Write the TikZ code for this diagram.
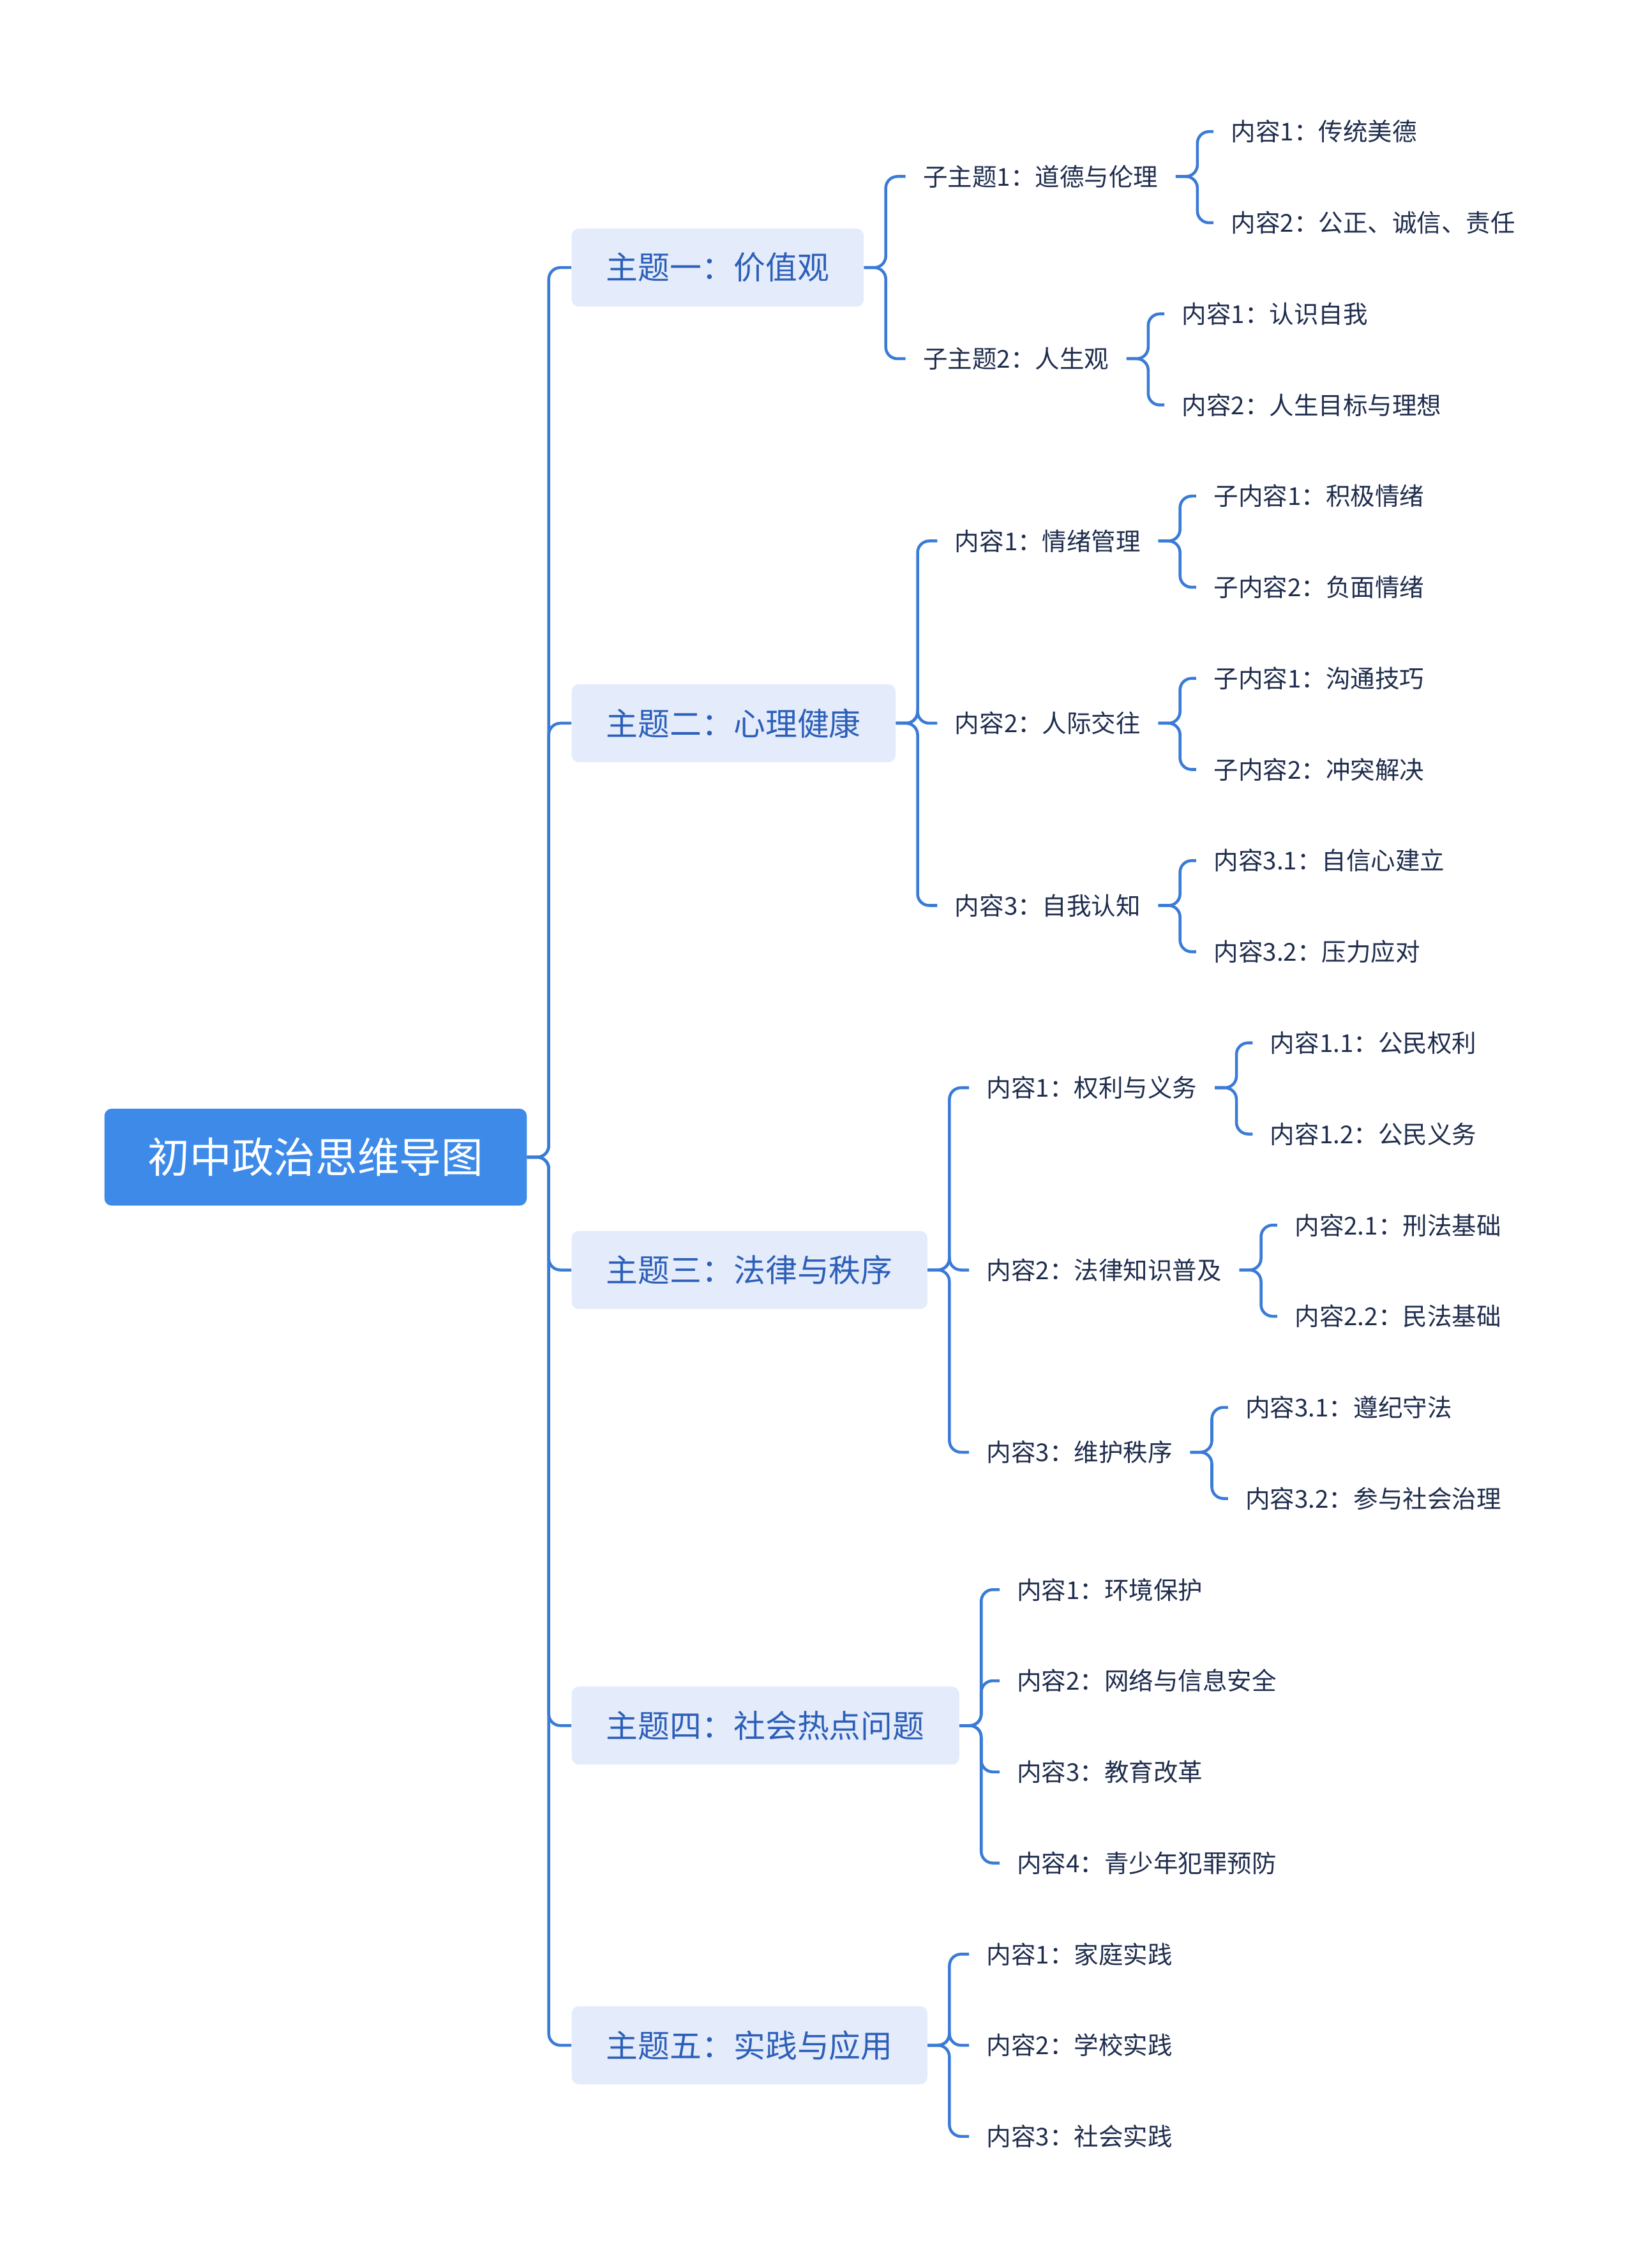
\documentclass[tikz,border=0pt]{standalone}
\usepackage{fontspec}
\setmainfont{Noto Sans CJK SC}
\begin{document}
\begin{tikzpicture}[x=1pt,y=-1pt,
  conn/.style={draw=lc,line width=2pt,rounded corners=8pt},
  rootbox/.style={fill=rootc,rounded corners=5pt,text=white,font=\fontsize{29}{32}\selectfont,minimum height=67pt,inner xsep=30pt,anchor=west},
  topicbox/.style={fill=topc,rounded corners=5pt,text=toptext,font=\fontsize{22}{26}\selectfont,minimum height=54pt,inner xsep=24pt,anchor=west},
  leaf/.style={text=leaftext,font=\fontsize{17}{20}\selectfont,inner xsep=12pt,inner ysep=2pt,anchor=west}]
\definecolor{lc}{HTML}{3A7BD5}
\definecolor{rootc}{HTML}{3D8AE8}
\definecolor{topc}{HTML}{E4ECFC}
\definecolor{toptext}{HTML}{2D5FB8}
\definecolor{leaftext}{HTML}{1F2D4D}
\newcommand\conn[2]{\draw[conn] (#1.east) -- ++(15,0) |- (#2.west);}
\useasboundingbox (0,0) rectangle (1131,1568);
\node[rootbox] (r) at (72,800) {初中政治思维导图};
\node[topicbox] (t1) at (395,185) {主题一：价值观};
\node[topicbox] (t2) at (395,500) {主题二：心理健康};
\node[topicbox] (t3) at (395,878) {主题三：法律与秩序};
\node[topicbox] (t4) at (395,1193) {主题四：社会热点问题};
\node[topicbox] (t5) at (395,1414) {主题五：实践与应用};
\foreach \t in {t1,t2,t3,t4,t5}{\conn{r}{\t}}
% T1
\node[leaf] (a1) at (626,122) {子主题1：道德与伦理};
\node[leaf] (a2) at (626,248) {子主题2：人生观};
\conn{t1}{a1}\conn{t1}{a2}
\node[leaf] (a11) at (839,91) {内容1：传统美德};
\node[leaf] (a12) at (839,154) {内容2：公正、诚信、责任};
\conn{a1}{a11}\conn{a1}{a12}
\node[leaf] (a21) at (805,217) {内容1：认识自我};
\node[leaf] (a22) at (805,280) {内容2：人生目标与理想};
\conn{a2}{a21}\conn{a2}{a22}
% T2
\node[leaf] (b1) at (648,374) {内容1：情绪管理};
\node[leaf] (b2) at (648,500) {内容2：人际交往};
\node[leaf] (b3) at (648,626) {内容3：自我认知};
\conn{t2}{b1}\conn{t2}{b2}\conn{t2}{b3}
\node[leaf] (b11) at (827,343) {子内容1：积极情绪};
\node[leaf] (b12) at (827,406) {子内容2：负面情绪};
\conn{b1}{b11}\conn{b1}{b12}
\node[leaf] (b21) at (827,469) {子内容1：沟通技巧};
\node[leaf] (b22) at (827,532) {子内容2：冲突解决};
\conn{b2}{b21}\conn{b2}{b22}
\node[leaf] (b31) at (827,595) {内容3.1：自信心建立};
\node[leaf] (b32) at (827,658) {内容3.2：压力应对};
\conn{b3}{b31}\conn{b3}{b32}
% T3
\node[leaf] (c1) at (670,752) {内容1：权利与义务};
\node[leaf] (c2) at (670,878) {内容2：法律知识普及};
\node[leaf] (c3) at (670,1004) {内容3：维护秩序};
\conn{t3}{c1}\conn{t3}{c2}\conn{t3}{c3}
\node[leaf] (c11) at (866,721) {内容1.1：公民权利};
\node[leaf] (c12) at (866,784) {内容1.2：公民义务};
\conn{c1}{c11}\conn{c1}{c12}
\node[leaf] (c21) at (883,847) {内容2.1：刑法基础};
\node[leaf] (c22) at (883,910) {内容2.2：民法基础};
\conn{c2}{c21}\conn{c2}{c22}
\node[leaf] (c31) at (849,973) {内容3.1：遵纪守法};
\node[leaf] (c32) at (849,1036) {内容3.2：参与社会治理};
\conn{c3}{c31}\conn{c3}{c32}
% T4
\node[leaf] (d1) at (691,1099) {内容1：环境保护};
\node[leaf] (d2) at (691,1162) {内容2：网络与信息安全};
\node[leaf] (d3) at (691,1225) {内容3：教育改革};
\node[leaf] (d4) at (691,1288) {内容4：青少年犯罪预防};
\conn{t4}{d1}\conn{t4}{d2}\conn{t4}{d3}\conn{t4}{d4}
% T5
\node[leaf] (e1) at (670,1351) {内容1：家庭实践};
\node[leaf] (e2) at (670,1414) {内容2：学校实践};
\node[leaf] (e3) at (670,1477) {内容3：社会实践};
\conn{t5}{e1}\conn{t5}{e2}\conn{t5}{e3}
\end{tikzpicture}
\end{document}
